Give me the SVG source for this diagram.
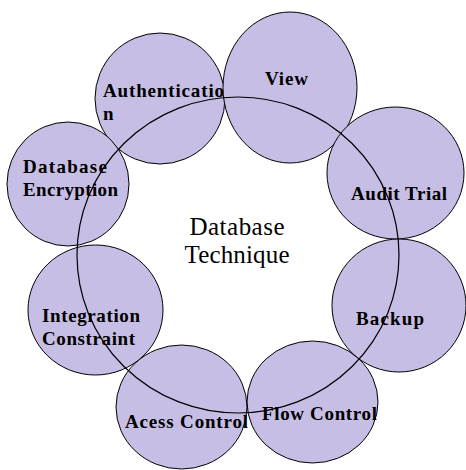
<svg xmlns="http://www.w3.org/2000/svg" width="466" height="470" viewBox="0 0 466 470">
<style>
.c{fill:#c6bee4;stroke:#000;stroke-width:1}
.t{font-family:"Liberation Serif","Times New Roman",serif;font-weight:bold;font-size:19px;fill:#000}
.m{font-family:"Liberation Serif","Times New Roman",serif;font-size:25px;fill:#000;text-anchor:middle}
.ring{fill:none;stroke:#000;stroke-width:1.2}
</style>
<rect width="466" height="470" fill="#fff"/>
<g id="authentication"><ellipse class="c" cx="160" cy="98.5" rx="65" ry="65.5"/><text class="t" x="103" y="97" textLength="121" lengthAdjust="spacing">Authenticatio</text><text class="t" x="103" y="120">n</text></g>
<g id="view"><ellipse class="c" cx="290" cy="87.5" rx="67" ry="75.5"/><text class="t" x="265" y="85" textLength="43" lengthAdjust="spacing">View</text></g>
<g id="audit-trial"><ellipse class="c" cx="395.5" cy="173" rx="68.5" ry="66"/><text class="t" x="351" y="200" textLength="96" lengthAdjust="spacing">Audit Trial</text></g>
<g id="backup"><ellipse class="c" cx="399" cy="305.5" rx="67" ry="66.5"/><text class="t" x="356" y="325" textLength="68" lengthAdjust="spacing">Backup</text></g>
<g id="flow-control"><ellipse class="c" cx="312.5" cy="402" rx="65.5" ry="61"/><text class="t" x="262" y="420" textLength="115" lengthAdjust="spacing">Flow Control</text></g>
<g id="acess-control"><ellipse class="c" cx="181.5" cy="407" rx="65.5" ry="62"/><text class="t" x="125" y="428" textLength="123" lengthAdjust="spacing">Acess Control</text></g>
<g id="integration-constraint"><ellipse class="c" cx="95.5" cy="310" rx="67.5" ry="65"/><text class="t" x="42" y="322" textLength="98" lengthAdjust="spacing">Integration</text><text class="t" x="42" y="345" textLength="93" lengthAdjust="spacing">Constraint</text></g>
<g id="database-encryption"><ellipse class="c" cx="68" cy="184" rx="61" ry="62"/><text class="t" x="23" y="173" textLength="84" lengthAdjust="spacing">Database</text><text class="t" x="23" y="196" textLength="95" lengthAdjust="spacing">Encryption</text></g>
<g id="connectors"><ellipse class="ring" cx="238" cy="255" rx="161" ry="158"/></g>
<g id="center"><text class="m" x="237" y="235" textLength="95" lengthAdjust="spacing">Database</text><text class="m" x="237" y="263" textLength="105" lengthAdjust="spacing">Technique</text></g>
</svg>
